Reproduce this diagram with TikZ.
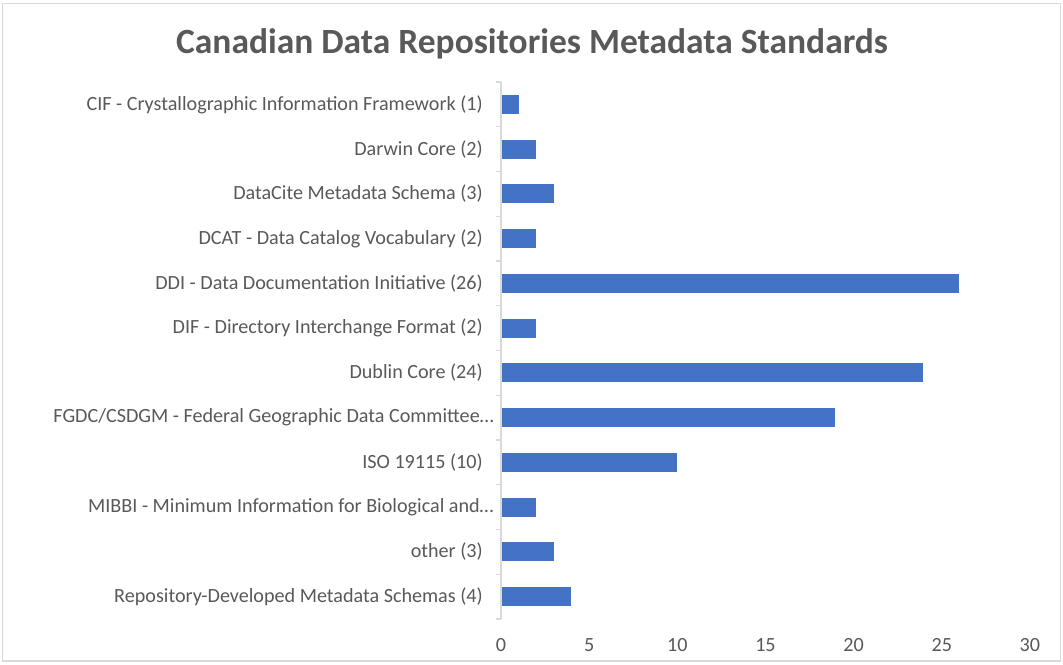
\documentclass[tikz,border=0pt]{standalone}
\usepackage{fontspec}
\setmainfont{Carlito}
\definecolor{txt}{HTML}{595959}
\definecolor{bar}{HTML}{4472C4}
\definecolor{axis}{HTML}{D9D9D9}
\definecolor{frame}{HTML}{D9D9D9}
\begin{document}
\begin{tikzpicture}[x=0.75pt,y=-0.75pt,
  lab/.style={anchor=east,text=txt,font=\fontsize{15.1}{17}\selectfont,inner sep=0pt},
  tick/.style={anchor=center,text=txt,font=\fontsize{15.1}{17}\selectfont,inner sep=0pt},
  barbox/.style={fill=bar,draw=none},
  ax/.style={draw=axis,line width=1pt}]
\useasboundingbox (0,0) rectangle (1063,664);
\fill[white] (0,0) rectangle (1063,664);
\draw[frame,line width=1.2pt] (2.5,3.5) rectangle (1060.5,661);
\node[text=txt,font=\bfseries\fontsize{26.6}{30}\selectfont,inner sep=0pt] (title) at (532,44) {Canadian Data Repositories Metadata Standards};
% axis
\coordinate (axtop) at (501,82);
\coordinate (axbot) at (501,619);
\draw[ax] (axtop) -- (axbot);
\foreach \k in {0,...,12}{
  \draw[ax] (496,82+\k*44.75) -- (501,82+\k*44.75);
}
% bars and labels
\def\sc{17.6}
\foreach \i/\v/\t/\xe in {
 0/1/{CIF - Crystallographic Information Framework (1)}/483,
 1/2/{Darwin Core (2)}/483,
 2/3/{DataCite Metadata Schema (3)}/483,
 3/2/{DCAT - Data Catalog Vocabulary (2)}/483,
 4/26/{DDI - Data Documentation Initiative (26)}/483,
 5/2/{DIF - Directory Interchange Format (2)}/483,
 6/24/{Dublin Core (24)}/483,
 7/19/{FGDC/CSDGM - Federal Geographic Data Committee…}/494,
 8/10/{ISO 19115 (10)}/483,
 9/2/{MIBBI - Minimum Information for Biological and…}/494,
 10/3/{other (3)}/483,
 11/4/{Repository-Developed Metadata Schemas (4)}/483}{
  \pgfmathsetmacro{\yc}{104.4+\i*44.75}
  \node[lab] (l\i) at (\xe,\yc) {\t};
  \fill[bar] (502,\yc-9.5) rectangle (501+\v*\sc,\yc+9.5);
}
\foreach \v in {0,5,...,30}{
  \node[tick] (t\v) at (501+\v*17.63,645) {\v};
}
\end{tikzpicture}
\end{document}
